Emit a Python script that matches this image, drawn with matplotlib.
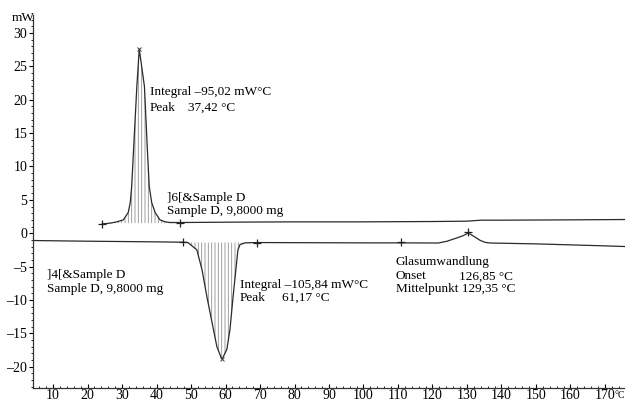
import matplotlib
matplotlib.use("Agg")
import matplotlib.pyplot as plt
import numpy as np

plt.rcParams['font.family'] = ['Liberation Serif', 'DejaVu Serif']
plt.rcParams['hatch.linewidth'] = 0.6

# heating curve "]6[" (upper)
upper_temp = [24.3, 26.5, 28.5, 30.4, 31.8, 32.4, 32.8, 33.3, 34.3, 35.0, 36.5, 37.4, 37.9,
              38.6, 39.6, 41.0, 42.5, 44.0, 46.8, 60, 80, 100, 120, 130, 134, 140, 160, 176]
upper_mw = [1.4, 1.5, 1.7, 2.0, 3.1, 4.6, 7.0, 12.0, 22.0, 27.6, 22.0, 12.0, 7.0,
            4.6, 3.1, 2.0, 1.7, 1.6, 1.6, 1.65, 1.7, 1.7, 1.75, 1.8, 1.95, 1.95, 2.0, 2.05]

# curve "]4[" (lower)
lower_temp = [4.2, 20, 40, 47.7, 49.1, 51.7, 53.2, 54.6, 56.1, 57.5, 58.7, 59.0, 60.4, 61.3,
              62.2, 63.0, 63.6, 64.2, 65.7, 69.1, 80, 100, 110.8, 121.7, 124.1, 127.0, 128.9,
              130.4, 132.3, 133.8, 135.2, 136.7, 150, 160, 170, 176]
lower_mw = [-1.1, -1.2, -1.3, -1.35, -1.4, -2.5, -5.5, -9.5, -13.4, -17.0, -18.6, -18.9, -17.4, -14.4,
            -9.5, -5.5, -2.5, -1.7, -1.45, -1.4, -1.42, -1.45, -1.45, -1.47, -1.22, -0.72, -0.37,
            0.03, -0.57, -1.07, -1.37, -1.47, -1.6, -1.75, -1.9, -2.0]

# integration limits / evaluation markers
upper_limits = [24.3, 46.8]
upper_base = 1.5
lower_limits = [47.7, 69.1]
lower_base = -1.4
limit_x = [24.3, 46.8, 47.7, 69.1, 110.8, 130.4]
limit_y = [1.4, 1.6, -1.35, -1.4, -1.3, 0.2]
extreme_x = [35.0, 59.0]
extreme_y = [27.6, -18.9]

x_ticks = list(range(10, 171, 10))
y_ticks = list(range(-20, 31, 5))

fig = plt.figure(figsize=(6.25, 4.01), dpi=100)
ax = fig.add_axes([33 / 625, 13 / 401, 592 / 625, 373 / 401])

ut = np.array(upper_temp)
um = np.array(upper_mw)
lt = np.array(lower_temp)
lm = np.array(lower_mw)

m = (ut >= upper_limits[0]) & (ut <= upper_limits[1])
ax.fill_between(ut[m], um[m], upper_base, facecolor='none', edgecolor='#909090',
                hatch='|||||', linewidth=0)
m = (lt >= lower_limits[0]) & (lt <= lower_limits[1])
ax.fill_between(lt[m], lm[m], lower_base, facecolor='none', edgecolor='#909090',
                hatch='|||||', linewidth=0)

ax.plot(ut, um, color='#2a2a2a', lw=0.9)
ax.plot(lt, lm, color='#2a2a2a', lw=0.9)
ax.plot(limit_x, limit_y, ls='none', marker='+', ms=6, mew=0.9, color='#222222')
ax.plot(extreme_x, extreme_y, ls='none', marker='x', ms=3, mew=0.7, color='#444444')

ax.set_xlim(4.2, 175.8)
ax.set_ylim(-23.2, 32.7)
ax.set_xticks(x_ticks)
ax.set_xticks(np.arange(6, 176, 2), minor=True)
ax.set_yticks(y_ticks)
ax.set_yticks(np.arange(-23, 33, 1), minor=True)
ax.set_yticklabels([str(v).replace('-', '\u2013') for v in y_ticks])
ax.tick_params(axis='x', which='major', direction='in', length=3, pad=1, labelsize=10)
ax.tick_params(axis='x', which='minor', direction='in', length=1.5)
ax.tick_params(axis='y', which='major', direction='out', length=3, pad=1, labelsize=10)
ax.tick_params(axis='y', which='minor', direction='out', length=1.5)
for s in ['top', 'right']:
    ax.spines[s].set_visible(False)
for s in ['left', 'bottom']:
    ax.spines[s].set_color('#333333')
    ax.spines[s].set_linewidth(0.9)

fs = 9.5
ax.text(38.1, 21.2, 'Integral \u201395,02 mW\u00b0C', fontsize=fs, va='center')
ax.text(38.1, 18.8, 'Peak', fontsize=fs, va='center')
ax.text(49.1, 18.8, '37,42 \u00b0C', fontsize=fs, va='center')

ax.text(43.1, 5.27, ']6[&Sample D', fontsize=fs, va='center')
ax.text(43.1, 3.26, 'Sample D, 9,8000 mg', fontsize=fs, va='center')

ax.text(8.2, -6.2, ']4[&Sample D', fontsize=fs, va='center')
ax.text(8.2, -8.3, 'Sample D, 9,8000 mg', fontsize=fs, va='center')

ax.text(64.2, -7.7, 'Integral \u2013105,84 mW\u00b0C', fontsize=fs, va='center')
ax.text(64.2, -9.7, 'Peak', fontsize=fs, va='center')
ax.text(76.3, -9.7, '61,17 \u00b0C', fontsize=fs, va='center')

ax.text(109.4, -4.37, 'Glasumwandlung', fontsize=fs, va='center')
ax.text(109.4, -6.47, 'Onset', fontsize=fs, va='center')
ax.text(127.8, -6.47, '126,85 \u00b0C', fontsize=fs, va='center')
ax.text(109.4, -8.35, 'Mittelpunkt 129,35 \u00b0C', fontsize=fs, va='center')

fig.text(23 / 625, 1 - 18 / 401, 'mW', fontsize=fs, ha='center', va='center')
fig.text(625 / 625, 1 - 395 / 401, '\u00b0C', fontsize=7, ha='right', va='center')

fig.savefig('out.png', dpi=100)
